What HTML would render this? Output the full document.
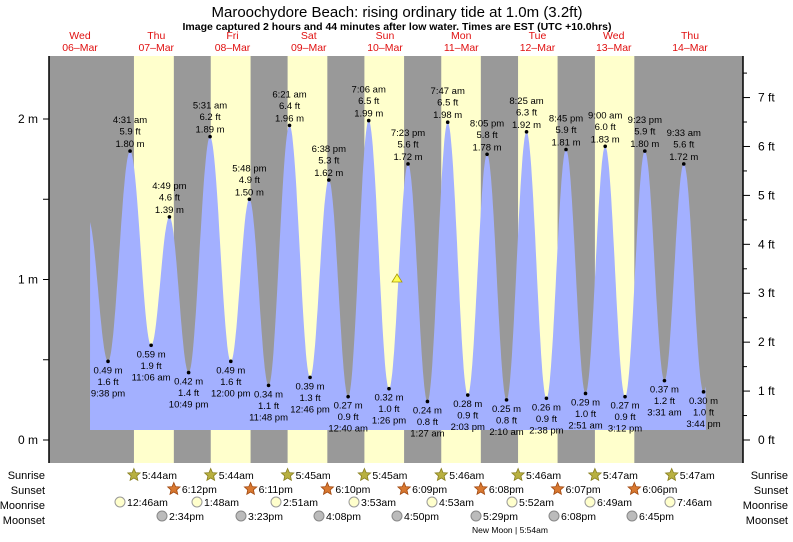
<!DOCTYPE html>
<html><head><meta charset="utf-8"><style>
body{margin:0;background:#fff;width:793px;height:537px;overflow:hidden}
svg text{font-family:"Liberation Sans",sans-serif}
</style></head><body>
<svg id="s" width="793" height="537" xmlns="http://www.w3.org/2000/svg">
<text x="397" y="17" text-anchor="middle" font-size="15">Maroochydore Beach: rising  ordinary tide at 1.0m (3.2ft)</text>
<text x="397" y="30" text-anchor="middle" font-size="10.5" font-weight="bold">Image captured 2 hours and 44 minutes after low water. Times are EST (UTC +10.0hrs)</text>
<g id="days" fill="#e01010" font-size="10.5" text-anchor="middle"></g>
<rect x="49" y="56" width="694" height="407" fill="#999"/>
<g id="yel" fill="#ffffcc"></g>
<path id="tide" fill="#a3b0ff"/>
<g id="lab" font-size="9.5" text-anchor="middle" fill="#000"></g>
<polygon points="397,274 392,282 402,282" fill="#ffff55" stroke="#aa9900" stroke-width="0.8"/>
<line x1="49" y1="56" x2="49" y2="463" stroke="#000" stroke-width="1.5"/>
<line x1="743" y1="56" x2="743" y2="463" stroke="#000" stroke-width="1.5"/>
<g id="ax" font-size="12"></g>
<g id="bot" font-size="10.5"></g>
<text x="510" y="533" text-anchor="middle" font-size="8.5">New Moon | 5:54am</text>
</svg>
<script>
const NS="http://www.w3.org/2000/svg";
function el(p,t,a,txt){const e=document.createElementNS(NS,t);for(const k in a)e.setAttribute(k,a[k]);if(txt!==undefined)e.textContent=txt;document.getElementById(p).appendChild(e);return e;}
const dn=["Wed","Thu","Fri","Sat","Sun","Mon","Tue","Wed","Thu"],dd=["06","07","08","09","10","11","12","13","14"];
for(let i=0;i<9;i++){const x=80+i*76.25;el("days","text",{x:x,y:39},dn[i]);el("days","text",{x:x,y:51},dd[i]+"\u2013Mar");}
const X=h=>115.6+h*3.2, Y=m=>440-160.5*m;
const sr=[5.733,5.733,5.75,5.75,5.767,5.767,5.783,5.783],ss=[18.2,18.183,18.167,18.15,18.133,18.117,18.1,18.1];
for(let d=0;d<7;d++){const a=X(d*24+sr[d]),b=X(d*24+ss[d]);el("yel","rect",{x:a,y:56,width:b-a,height:407});}
const D=[[-8.6,1.38,""],[-2.367,.49,"9:38 pm",1.6],[4.517,1.80,"4:31 am",5.9],[11.1,.59,"11:06 am",1.9],[16.817,1.39,"4:49 pm",4.6],[22.817,.42,"10:49 pm",1.4],[29.517,1.89,"5:31 am",6.2],[36,.49,"12:00 pm",1.6],[41.8,1.50,"5:48 pm",4.9],[47.8,.34,"11:48 pm",1.1],[54.35,1.96,"6:21 am",6.4],[60.767,.39,"12:46 pm",1.3],[66.633,1.62,"6:38 pm",5.3],[72.667,.27,"12:40 am",.9],[79.1,1.99,"7:06 am",6.5],[85.433,.32,"1:26 pm",1.0],[91.383,1.72,"7:23 pm",5.6],[97.45,.24,"1:27 am",.8],[103.783,1.98,"7:47 am",6.5],[110.05,.28,"2:03 pm",.9],[116.083,1.78,"8:05 pm",5.8],[122.167,.25,"2:10 am",.8],[128.417,1.92,"8:25 am",6.3],[134.633,.26,"2:38 pm",.9],[140.75,1.81,"8:45 pm",5.9],[146.85,.29,"2:51 am",1.0],[153,1.83,"9:00 am",6.0],[159.2,.27,"3:12 pm",.9],[165.383,1.80,"9:23 pm",5.9],[171.517,.37,"3:31 am",1.2],[177.55,1.72,"9:33 am",5.6],[183.733,.30,"3:44 pm",1.0],[190,1.7,""]];
let pts=[];
for(let i=0;i<D.length-1;i++){const[a,ha]=D[i],[b,hb]=D[i+1];for(let k=0;k<30;k++){const t=a+(b-a)*k/30,f=(1-Math.cos(Math.PI*k/30))/2;const x=X(t);if(x>=90&&x<=706)pts.push([x,Y(ha+(hb-ha)*f)]);}}
let p="M90,430 L"+pts.map(q=>q[0].toFixed(1)+","+q[1].toFixed(1)).join(" L")+" L706,430 Z";
document.getElementById("tide").setAttribute("d",p);
for(let i=1;i<D.length-1;i++){const[t,m,s,ft]=D[i];const x=X(t),y=Y(m);el("lab","circle",{cx:x,cy:y,r:1.8});
const fs=ft.toFixed(1)+" ft",ms=m.toFixed(2)+" m";
if(i%2==0){el("lab","text",{x:x,y:y-28},s);el("lab","text",{x:x,y:y-16.5},fs);el("lab","text",{x:x,y:y-4},ms);}
else{el("lab","text",{x:x,y:y+12},ms);el("lab","text",{x:x,y:y+23.5},fs);el("lab","text",{x:x,y:y+35},s);}}
for(let m=0;m<=2.2;m+=0.5){const y=Y(m);el("ax","line",{x1:43,y1:y,x2:49,y2:y,stroke:"#000"});}
[0,1,2].forEach(m=>el("ax","text",{x:38,y:Y(m)+4,"text-anchor":"end"},m+" m"));
for(let f=0;f<=7.5;f+=0.5){const y=Y(f*0.3048);el("ax","line",{x1:743,y1:y,x2:f%1?747:750,y2:y,stroke:"#000"});if(f%1==0)el("ax","text",{x:758,y:y+4},f+" ft");}
const rows=[["Sunrise",475],["Sunset",490],["Moonrise",505],["Moonset",520]];
rows.forEach(r=>{el("bot","text",{x:45,y:r[1]+4,"text-anchor":"end","font-size":11},r[0]);el("bot","text",{x:788,y:r[1]+4,"text-anchor":"end","font-size":11},r[0]);});
function star(x,y,c,sc){let s="";for(let k=0;k<10;k++){const a=-Math.PI/2+k*Math.PI/5,r=k%2?3:6.5;s+=(x+r*Math.cos(a)).toFixed(1)+","+(y+r*Math.sin(a)).toFixed(1)+" ";}el("bot","polygon",{points:s,fill:c,stroke:sc,"stroke-width":0.8});}
const srT=["5:44am","5:44am","5:45am","5:45am","5:46am","5:46am","5:47am","5:47am"],ssT=["6:12pm","6:11pm","6:10pm","6:09pm","6:08pm","6:07pm","6:06pm"];
for(let d=0;d<8;d++){const x=X(d*24+sr[d]);star(x,475,"#b8b040","#887f20");el("bot","text",{x:x+8,y:479},srT[d]);}
for(let d=0;d<7;d++){const x=X(d*24+ss[d]);star(x,489,"#d87830","#a04810");el("bot","text",{x:x+8,y:493},ssT[d]);}
const mr=[[120,"12:46am"],[197,"1:48am"],[276,"2:51am"],[354,"3:53am"],[432,"4:53am"],[512,"5:52am"],[590,"6:49am"],[670,"7:46am"]];
mr.forEach(q=>{el("bot","circle",{cx:q[0],cy:502,r:5,fill:"#ffffcc",stroke:"#999"});el("bot","text",{x:q[0]+7,y:506},q[1]);});
const ms=[[162,"2:34pm"],[241,"3:23pm"],[319,"4:08pm"],[397,"4:50pm"],[476,"5:29pm"],[554,"6:08pm"],[632,"6:45pm"]];
ms.forEach(q=>{el("bot","circle",{cx:q[0],cy:516,r:5,fill:"#bbb",stroke:"#888"});el("bot","text",{x:q[0]+7,y:520},q[1]);});
</script>
</body></html>
